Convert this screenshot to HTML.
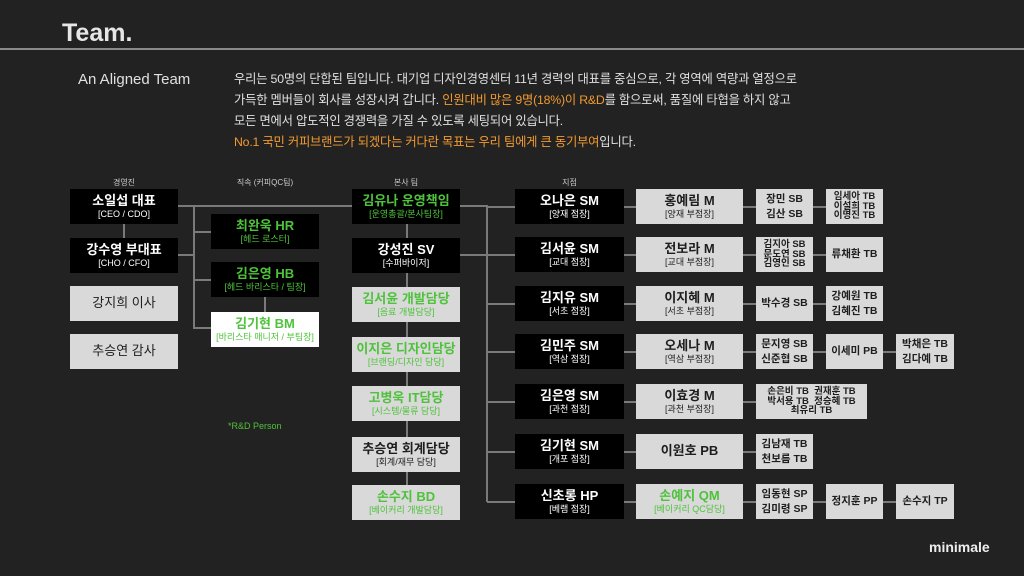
<!DOCTYPE html>
<html><head><meta charset="utf-8"><style>
*{margin:0;padding:0;box-sizing:border-box}
body{width:1024px;height:576px;background:#222;overflow:hidden;position:relative;font-family:"Liberation Sans","Noto Sans CJK KR",sans-serif;color:#fff}
.a{position:absolute}
.b{position:absolute;display:flex;flex-direction:column;align-items:center;justify-content:center;text-align:center;line-height:1.25;height:35px}
.k{background:#000;color:#fff}
.g{background:#d9d9d9;color:#1e1e1e}
.w{background:#fff;color:#1e1e1e}
.n{font-size:13px;font-weight:bold}
.s{font-size:9px}
.t{font-size:10.5px;font-weight:bold;line-height:1.05}
.gr{color:#4fc23c}
.l{position:absolute;background:#7a7a7a}
.h{font-size:8px;color:#ccc;position:absolute;text-align:center}
.or{color:#f39a2e}
</style></head><body>
<div class="a" style="left:62px;top:19px;font-size:25px;font-weight:bold;color:#e6e6e6">Team.</div>
<div class="a" style="left:0;top:48px;width:1024px;height:2px;background:#8a8a8a"></div>
<div class="a" style="left:78px;top:71px;font-size:15px;color:#e0e0e0">An Aligned Team</div>
<div class="a" style="left:234px;top:69px;font-size:12.3px;line-height:21px;color:#e0e0e0;width:600px;letter-spacing:-0.2px">
우리는 50명의 단합된 팀입니다. 대기업 디자인경영센터 11년 경력의 대표를 중심으로, 각 영역에 역량과 열정으로<br>
가득한 멤버들이 회사를 성장시켜 갑니다. <span class="or">인원대비 많은 9명(18%)이 R&amp;D</span>를 함으로써, 품질에 타협을 하지 않고<br>
모든 면에서 압도적인 경쟁력을 가질 수 있도록 세팅되어 있습니다.<br>
<span class="or">No.1 국민 커피브랜드가 되겠다는 커다란 목표는 우리 팀에게 큰 동기부여</span>입니다.</div>

<div class="h" style="left:70px;width:108px;top:177px">경영진</div>
<div class="h" style="left:211px;width:108px;top:177px">직속 (커피QC팀)</div>
<div class="h" style="left:352px;width:108px;top:177px">본사 팀</div>
<div class="h" style="left:515px;width:109px;top:177px">지점</div>

<!-- lines -->
<div class="l" style="left:178px;top:205px;width:309px;height:2px"></div>
<div class="l" style="left:123px;top:224px;width:2px;height:14px"></div>
<div class="l" style="left:178px;top:254px;width:16px;height:2px"></div>
<div class="l" style="left:193px;top:205px;width:2px;height:123px"></div>
<div class="l" style="left:193px;top:231px;width:18px;height:2px"></div>
<div class="l" style="left:193px;top:279px;width:18px;height:2px"></div>
<div class="l" style="left:193px;top:327px;width:18px;height:2px"></div>
<div class="l" style="left:264px;top:297px;width:2px;height:15px"></div>
<div class="l" style="left:406px;top:224px;width:2px;height:262px"></div>
<div class="l" style="left:460px;top:254px;width:27px;height:2px"></div>
<div class="l" style="left:486px;top:205px;width:2px;height:297px"></div>

<!-- col1 -->
<div class="b k" style="left:70px;top:189px;width:108px"><div class="n">소일섭 대표</div><div class="s">[CEO / CDO]</div></div>
<div class="b k" style="left:70px;top:238px;width:108px"><div class="n">강수영 부대표</div><div class="s">[CHO / CFO]</div></div>
<div class="b g" style="left:70px;top:286px;width:108px"><div class="n" style="font-weight:normal;font-size:13px">강지희 이사</div></div>
<div class="b g" style="left:70px;top:334px;width:108px"><div class="n" style="font-weight:normal;font-size:13px">추승연 감사</div></div>

<!-- col2 -->
<div class="b k" style="left:211px;top:214px;width:108px"><div class="n gr">최완욱 HR</div><div class="s gr">[헤드 로스터]</div></div>
<div class="b k" style="left:211px;top:262px;width:108px"><div class="n gr">김은영 HB</div><div class="s gr">[헤드 바리스타 / 팀장]</div></div>
<div class="b w" style="left:211px;top:312px;width:108px"><div class="n gr">김기현 BM</div><div class="s gr">[바리스타 매니저 / 부팀장]</div></div>
<div class="a gr" style="left:228px;top:421px;font-size:9px">*R&amp;D Person</div>

<!-- col3 -->
<div class="b k" style="left:352px;top:189px;width:108px"><div class="n gr">김유나 운영책임</div><div class="s gr">[운영총괄/본사팀장]</div></div>
<div class="b k" style="left:352px;top:238px;width:108px"><div class="n">강성진 SV</div><div class="s">[수퍼바이저]</div></div>
<div class="b g" style="left:352px;top:287px;width:108px"><div class="n gr">김서윤 개발담당</div><div class="s gr">[음료 개발담당]</div></div>
<div class="b g" style="left:352px;top:337px;width:108px"><div class="n gr">이지은 디자인담당</div><div class="s gr">[브랜딩/디자인 담당]</div></div>
<div class="b g" style="left:352px;top:386px;width:108px"><div class="n gr">고병욱 IT담당</div><div class="s gr">[시스템/물류 담당]</div></div>
<div class="b g" style="left:352px;top:437px;width:108px"><div class="n">추승연 회계담당</div><div class="s">[회계/재무 담당]</div></div>
<div class="b g" style="left:352px;top:485px;width:108px"><div class="n gr">손수지 BD</div><div class="s gr">[베이커리 개발담당]</div></div>

<!-- branch rows -->
<div class="l" style="left:487px;top:206px;width:28px;height:2px"></div>
<div class="l" style="left:487px;top:254px;width:28px;height:2px"></div>
<div class="l" style="left:487px;top:303px;width:28px;height:2px"></div>
<div class="l" style="left:487px;top:351px;width:28px;height:2px"></div>
<div class="l" style="left:487px;top:401px;width:28px;height:2px"></div>
<div class="l" style="left:487px;top:451px;width:28px;height:2px"></div>
<div class="l" style="left:487px;top:501px;width:28px;height:2px"></div>
<!-- row connectors across -->
<div class="l" style="left:624px;top:206px;width:202px;height:2px"></div>
<div class="l" style="left:624px;top:254px;width:202px;height:2px"></div>
<div class="l" style="left:624px;top:303px;width:202px;height:2px"></div>
<div class="l" style="left:624px;top:351px;width:272px;height:2px"></div>
<div class="l" style="left:624px;top:401px;width:132px;height:2px"></div>
<div class="l" style="left:624px;top:451px;width:132px;height:2px"></div>
<div class="l" style="left:624px;top:501px;width:272px;height:2px"></div>

<div class="b k" style="left:515px;top:189px;width:109px"><div class="n">오나은 SM</div><div class="s">[양재 점장]</div></div>
<div class="b k" style="left:515px;top:237px;width:109px"><div class="n">김서윤 SM</div><div class="s">[교대 점장]</div></div>
<div class="b k" style="left:515px;top:286px;width:109px"><div class="n">김지유 SM</div><div class="s">[서초 점장]</div></div>
<div class="b k" style="left:515px;top:334px;width:109px"><div class="n">김민주 SM</div><div class="s">[역삼 점장]</div></div>
<div class="b k" style="left:515px;top:384px;width:109px"><div class="n">김은영 SM</div><div class="s">[과천 점장]</div></div>
<div class="b k" style="left:515px;top:434px;width:109px"><div class="n">김기현 SM</div><div class="s">[개포 점장]</div></div>
<div class="b k" style="left:515px;top:484px;width:109px"><div class="n">신초롱 HP</div><div class="s">[베램 점장]</div></div>

<div class="b g" style="left:636px;top:189px;width:107px"><div class="n">홍예림 M</div><div class="s">[양재 부점장]</div></div>
<div class="b g" style="left:636px;top:237px;width:107px"><div class="n">전보라 M</div><div class="s">[교대 부점장]</div></div>
<div class="b g" style="left:636px;top:286px;width:107px"><div class="n">이지혜 M</div><div class="s">[서초 부점장]</div></div>
<div class="b g" style="left:636px;top:334px;width:107px"><div class="n">오세나 M</div><div class="s">[역삼 부점장]</div></div>
<div class="b g" style="left:636px;top:384px;width:107px"><div class="n">이효경 M</div><div class="s">[과천 부점장]</div></div>
<div class="b g" style="left:636px;top:434px;width:107px"><div class="n">이원호 PB</div></div>
<div class="b g" style="left:636px;top:484px;width:107px"><div class="n gr">손예지 QM</div><div class="s gr">[베이커리 QC담당]</div></div>

<div class="b g" style="left:756px;top:189px;width:57px"><div class="t" style="line-height:1.4">장민 SB<br>김산 SB</div></div>
<div class="b g" style="left:756px;top:237px;width:57px"><div class="t" style="font-size:9.5px;line-height:1">김지아 SB<br>문도연 SB<br>김영인 SB</div></div>
<div class="b g" style="left:756px;top:286px;width:57px"><div class="t">박수경 SB</div></div>
<div class="b g" style="left:756px;top:334px;width:57px"><div class="t" style="line-height:1.4">문지영 SB<br>신준협 SB</div></div>
<div class="b g" style="left:756px;top:384px;width:111px"><div class="t" style="font-size:9.5px;line-height:1">손은비 TB&nbsp; 권재훈 TB<br>박서용 TB&nbsp; 정승혜 TB<br>최유리 TB</div></div>
<div class="b g" style="left:756px;top:434px;width:57px"><div class="t" style="line-height:1.4">김남재 TB<br>천보름 TB</div></div>
<div class="b g" style="left:756px;top:484px;width:57px"><div class="t" style="line-height:1.4">임동현 SP<br>김미령 SP</div></div>

<div class="b g" style="left:826px;top:189px;width:57px"><div class="t" style="font-size:9.5px;line-height:1">임세아 TB<br>이설희 TB<br>이명진 TB</div></div>
<div class="b g" style="left:826px;top:237px;width:57px"><div class="t">류채환 TB</div></div>
<div class="b g" style="left:826px;top:286px;width:57px"><div class="t" style="line-height:1.4">강예원 TB<br>김혜진 TB</div></div>
<div class="b g" style="left:826px;top:334px;width:57px"><div class="t">이세미 PB</div></div>
<div class="b g" style="left:826px;top:484px;width:57px"><div class="t">정지훈 PP</div></div>

<div class="b g" style="left:896px;top:334px;width:58px"><div class="t" style="line-height:1.4">박채은 TB<br>김다예 TB</div></div>
<div class="b g" style="left:896px;top:484px;width:58px"><div class="t">손수지 TP</div></div>

<div class="a" style="left:929px;top:539px;font-size:14px;font-weight:bold;color:#eee">minimale</div>
</body></html>
